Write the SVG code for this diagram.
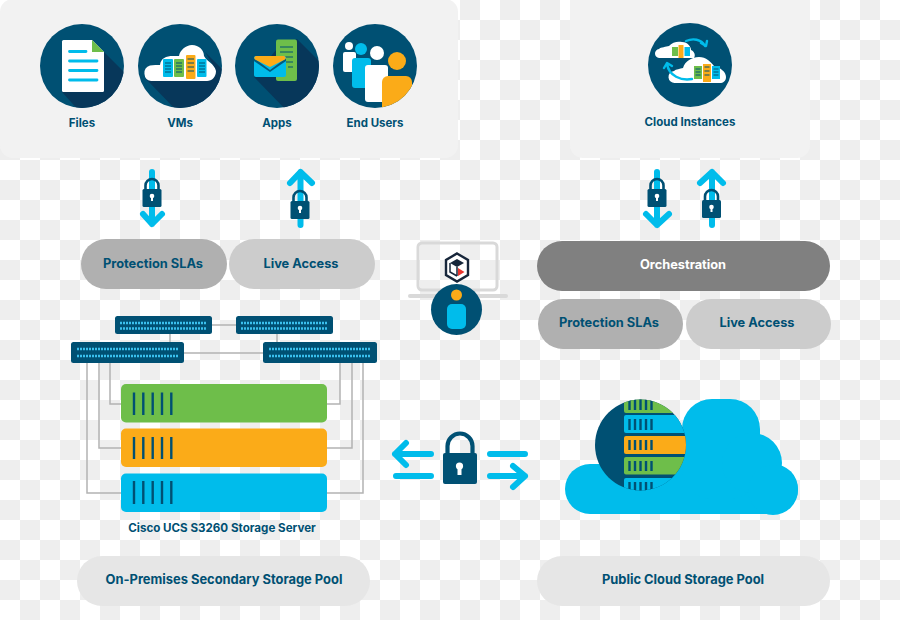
<svg xmlns="http://www.w3.org/2000/svg" width="900" height="620" viewBox="0 0 900 620">
<style>
text{font-family:"Inter","Liberation Sans",sans-serif;font-weight:700;fill:#005073;text-anchor:middle}
.s{font-size:11.5px}.c{font-size:11.6px}.m{font-size:12.8px}.l{font-size:12.9px}
.dark{fill:#005073}.shade{fill:#07375a}.cy{fill:#00bceb}.gr{fill:#6ebe4a}.or{fill:#fbab18}.wh{fill:#fff}
.arrow{fill:none;stroke:#00bceb;stroke-linecap:round;stroke-linejoin:round}
.a4{stroke-width:6}
.wire{fill:none;stroke:#b3b3b3;stroke-width:1.5}
.tick{stroke:#005073;stroke-width:2.4}
.dots{stroke:#3ac0ee;stroke-width:2.4;stroke-dasharray:2 1}
.ln{stroke:#00bceb;stroke-width:2.8;stroke-linecap:round}
.dl{stroke:#005073;stroke-width:1.2}
</style>
<defs>
<pattern id="chk" width="40" height="40" patternUnits="userSpaceOnUse">
<rect width="40" height="40" fill="#fff"/>
<rect x="20" y="0" width="20" height="20" fill="#eee"/>
<rect x="0" y="20" width="20" height="20" fill="#eee"/>
</pattern>
<clipPath id="c1"><circle cx="82" cy="66" r="42"/></clipPath>
<clipPath id="c2"><circle cx="180" cy="66" r="42"/></clipPath>
<clipPath id="c3"><circle cx="277" cy="66" r="42"/></clipPath>
<clipPath id="c4"><circle cx="375" cy="66" r="42"/></clipPath>
<clipPath id="c5"><circle cx="640.5" cy="445" r="45.5"/></clipPath>
<g id="lock">
<path d="M-6.500,0V-4.500a6.500,6.500 0 0 1 13,0V0" fill="none" stroke="#005073" stroke-width="2.600"/>
<rect x="-9.500" y="-1" width="19" height="18" rx="1.500" fill="#005073"/>
<circle cx="0" cy="6" r="2.300" fill="#fff"/><rect x="-1" y="6" width="2" height="5" fill="#fff"/>
</g>
</defs>
<rect width="900" height="620" fill="url(#chk)"/>
<rect x="0" y="-1" width="458" height="159" rx="13" fill="#f2f2f2"/>
<rect x="570" y="-14" width="240" height="172" rx="13" fill="#f2f2f2"/>

<g id="files">
<circle class="dark" cx="82" cy="66" r="42"/>
<polygon class="shade" clip-path="url(#c1)" points="92,40 130,78 130,112 80,112 62,92"/>
<path class="wh" d="M63.500,40H92L104,52V90.500a1.500,1.500 0 0 1 -1.500,1.500H63.500a1.500,1.500 0 0 1 -1.500,-1.500V41.500a1.500,1.500 0 0 1 1.500,-1.500Z"/>
<polygon class="gr" points="92,40 104,52 92,52"/>
<path class="ln" d="M69.500,51.500H86M69.500,61H97M69.500,70.500H97M69.500,80H97"/>
<text class="s" x="82" y="127">Files</text>
</g>

<g id="vms">
<circle class="dark" cx="180" cy="66" r="42"/>
<polygon class="shade" clip-path="url(#c2)" points="146,79 178,112 225,112 225,72 205,52 216,70"/>
<path class="wh" d="M151,81a8,8 0 0 1 -1,-15.500C153,65 158,65 160,65C161,58 166,56 173,56H179C180,50 186,45 192,45C199,45 204,50 204,56C207,62 214,63 216,71C216,77 212,81 207,81Z"/>
<rect class="cy" x="163" y="59" width="10" height="18" rx="1"/><rect class="gr" x="174" y="59" width="10" height="18" rx="1"/><rect class="or" x="186" y="55" width="9.500" height="24" rx="1"/><rect class="cy" x="197" y="59" width="9.500" height="18" rx="1"/>
<path class="dl" d="M165,63h6M165,66h6M165,69h6M165,72h6M176,63h6M176,66h6M176,69h6M176,72h6M187.500,59h6.500M187.500,63h6.500M187.500,67h6.500M187.500,71h6.500M199,63h6M199,66h6M199,69h6M199,72h6"/>
<text class="s" x="180" y="127">VMs</text>
</g>

<g id="apps">
<circle class="dark" cx="277" cy="66" r="42"/>
<polygon class="shade" clip-path="url(#c3)" points="297,39 325,67 325,112 288,112 254,77 276,50"/>
<rect class="gr" x="276" y="39.500" width="21" height="41.500" rx="2"/>
<path class="dl" d="M280,47h13M280,52h13M280,57h13M280,62h13M288,67h5"/>
<rect class="cy" x="254" y="56" width="32" height="21" rx="2"/>
<path fill="#005073" d="M254,58 270,70 286,58V61L270,72 254,61Z" opacity=".9"/>
<path class="or" d="M256,56H284a2,2 0 0 1 1,3.500L270,67 255,59.500a2,2 0 0 1 1,-3.500Z"/>
<text class="s" x="277" y="127">Apps</text>
</g>

<g id="end-users">
<circle class="dark" cx="375" cy="66" r="42"/>
<circle class="wh" cx="349" cy="46" r="4"/><rect class="wh" x="343" y="52" width="13" height="20" rx="2"/>
<circle class="cy" cx="361" cy="49" r="6"/><rect class="cy" x="352" y="58" width="19" height="30" rx="3"/>
<circle class="wh" cx="377" cy="53" r="7"/><rect class="wh" x="365" y="65" width="23" height="37" rx="3"/>
<circle class="or" cx="397" cy="61" r="9"/>
<path class="or" clip-path="url(#c4)" d="M382,112V82a6,6 0 0 1 6,-6H406a6,6 0 0 1 6,6V112Z"/>
<text class="s" x="375" y="127">End Users</text>
</g>

<g id="cloud-instances">
<circle class="dark" cx="690" cy="65" r="42"/>
<path class="wh" d="M660,58a4.500,4.500 0 0 1 -1,-9C661,47 666,47 669,46C672,42 678,41 682,42C688,42 691,47 691,50C694,51 696,55 694,58Z"/>
<rect class="gr" x="672" y="47" width="6" height="9"/><rect class="or" x="678.500" y="45" width="5" height="13"/><rect class="cy" x="684.500" y="47" width="5.500" height="9"/>
<path class="wh" d="M675,83a6,6 0 0 1 -1,-12C676,69 680,69 683,68C685,61 692,57 699,57C706,57 711,62 714,66C721,68 726,72 726,77C726,81 723,83 720,83Z"/>
<rect class="gr" x="694" y="66" width="8" height="13"/><rect class="or" x="703" y="64" width="8" height="18"/><rect class="cy" x="712" y="66" width="8" height="13"/>
<path class="dl" d="M695.500,69h5M695.500,72h5M695.500,75h5M704.500,67h5M704.500,71h5M704.500,75h5M713.500,69h5M713.500,72h5M713.500,75h5"/>
<path class="arrow" stroke-width="2.400" d="M686,41C693,38 701,39 705,46M701,43 706,46 707,41"/>
<path class="arrow" stroke-width="2.400" d="M692,79C681,81 669,76 667,64M664,68 667,63 672,66"/>
<text class="s" x="690" y="126">Cloud Instances</text>
</g>

<g id="lock-arrow-1">
<path class="arrow a4" d="M152,172V224M143,214 152,224 162,214"/>
<use href="#lock" x="152" y="190"/>
</g>
<g id="lock-arrow-2">
<path class="arrow a4" d="M300.500,172V225M290,183 300.500,172 312,183"/>
<use href="#lock" x="300" y="202"/>
</g>
<g id="lock-arrow-3">
<path class="arrow a4" d="M657,172V225M646,214 657,225 669,214"/>
<use href="#lock" x="657" y="190"/>
</g>
<g id="lock-arrow-4">
<path class="arrow a4" d="M712,172V225M700,183 712,172 723,183"/>
<use href="#lock" x="711.500" y="201"/>
</g>

<g id="protection-slas-left"><rect x="81" y="239" width="146" height="50" rx="25" fill="#b0b0b0"/><text class="m" x="153" y="267.500">Protection SLAs</text></g>
<g id="live-access-left"><rect x="229" y="239" width="146" height="50" rx="25" fill="#ccc"/><text class="m" x="301" y="267.500">Live Access</text></g>
<g id="orchestration"><rect x="537" y="241" width="293" height="50" rx="25" fill="#808080"/><text class="m" x="683" y="268.500" style="fill:#fff">Orchestration</text></g>
<g id="protection-slas-right"><rect x="538" y="299" width="145" height="50" rx="25" fill="#b0b0b0"/><text class="m" x="609" y="327">Protection SLAs</text></g>
<g id="live-access-right"><rect x="686" y="299" width="145" height="50" rx="25" fill="#ccc"/><text class="m" x="757" y="327">Live Access</text></g>

<g id="laptop">
<rect x="418" y="243" width="79" height="47" rx="4" fill="none" stroke="#d9d9d9" stroke-width="3"/>
<path d="M410,296H506" stroke="#d9d9d9" stroke-width="4" stroke-linecap="round"/>
<path d="M457,253.500 468,260V275L457,281.500 446,275V260Z" fill="#fff" stroke="#17263a" stroke-width="2.400"/>
<path d="M450,263 457,259 464,263 457,267Z" fill="#17263a"/>
<path d="M457,267V276M450,263V272L457,276" fill="none" stroke="#17263a" stroke-width="1.500"/>
<polygon points="458,268 464.500,272 458,276" fill="#e8352e"/>
<circle class="dark" cx="456.500" cy="309.500" r="25.500"/>
<circle class="or" cx="456.500" cy="295" r="5.500"/>
<rect class="cy" x="447" y="304" width="19" height="25" rx="5"/>
</g>

<g id="connectors">
<path class="wire" d="M212,325H236M184,353H263M170,334V342M277,334V342"/>
<path class="wire" d="M110,363V404H121M99,363V448H121M87,363V493H121"/>
<path class="wire" d="M327,404H340V363M327,448H352V363M327,493H363V363"/>
</g>

<g id="switch-1"><rect class="dark" x="115" y="316" width="97" height="18" rx="2.500"/><path class="dots" d="M120,323H207M120,328.500H207"/></g>
<g id="switch-2"><rect class="dark" x="236" y="316" width="97" height="18" rx="2.500"/><path class="dots" d="M241,323H328M241,328.500H328"/></g>
<g id="switch-3"><rect class="dark" x="71" y="342" width="113" height="21" rx="2.500"/><path class="dots" d="M77,349H179M77,356H179"/></g>
<g id="switch-4"><rect class="dark" x="263" y="342" width="114" height="21" rx="2.500"/><path class="dots" d="M269,349H371M269,356H371"/></g>

<g id="server-green"><rect class="gr" x="121" y="384" width="206" height="38.500" rx="5"/><path class="tick" d="M134,392.500V415M143.300,392.500V415M152.700,392.500V415M162,392.500V415M171.300,392.500V415"/></g>
<g id="server-orange"><rect class="or" x="121" y="428.500" width="206" height="38.500" rx="5"/><path class="tick" d="M134,437V459M143.300,437V459M152.700,437V459M162,437V459M171.300,437V459"/></g>
<g id="server-blue"><rect class="cy" x="121" y="473.500" width="206" height="38.500" rx="5"/><path class="tick" d="M134,481V504M143.300,481V504M152.700,481V504M162,481V504M171.300,481V504"/></g>
<text class="c" x="222" y="532">Cisco UCS S3260 Storage Server</text>

<g id="transfer-lock">
<path class="arrow" stroke-width="6" d="M431,454H395M406,443 395,454 406,465M396,476H431M490,454H525M490,476H525M513,466 525,476 513,487"/>
<path d="M447.500,453V446a12.500,12.500 0 0 1 25,0V453" fill="none" stroke="#005073" stroke-width="4.200"/>
<rect class="dark" x="443" y="453" width="34" height="31" rx="2"/>
<circle class="wh" cx="459.500" cy="466" r="3.600"/><rect class="wh" x="457.500" y="467" width="4" height="8"/>
</g>

<g id="cloud-storage">
<rect class="cy" x="565" y="464" width="233" height="50" rx="25"/>
<rect class="cy" x="682" y="399" width="78" height="100" rx="30"/>
<circle class="cy" cx="752" cy="463" r="30"/>
<circle class="cy" cx="773" cy="490" r="25"/>
<circle class="dark" cx="640.500" cy="445" r="45.500"/>
<g clip-path="url(#c5)">
<rect class="gr" x="624" y="395" width="70" height="18" rx="2"/>
<rect class="cy" x="624" y="415" width="70" height="18" rx="2"/>
<rect class="or" x="624" y="436" width="70" height="18" rx="2"/>
<rect class="gr" x="624" y="457" width="70" height="17.500" rx="2"/>
<rect class="cy" x="624" y="478" width="70" height="18" rx="2"/>
<path class="tick" d="M629.500,399V410M635,399V410M640.500,399V410M646,399V410M651.500,399V410M629.500,419V430M635,419V430M640.500,419V430M646,419V430M651.500,419V430M629.500,440V450M635,440V450M640.500,440V450M646,440V450M651.500,440V450M629.500,461V471M635,461V471M640.500,461V471M646,461V471M651.500,461V471M629.500,482V492M635,482V492M640.500,482V492M646,482V492M651.500,482V492"/>
</g>
</g>

<g id="on-premises-pool"><rect x="77" y="556" width="293" height="50" rx="25" fill="#e6e6e6"/><text class="l" x="224" y="583.500">On-Premises Secondary Storage Pool</text></g>
<g id="public-cloud-pool"><rect x="537" y="556" width="293" height="50" rx="25" fill="#e6e6e6"/><text class="l" x="683" y="583.500">Public Cloud Storage Pool</text></g>
</svg>
